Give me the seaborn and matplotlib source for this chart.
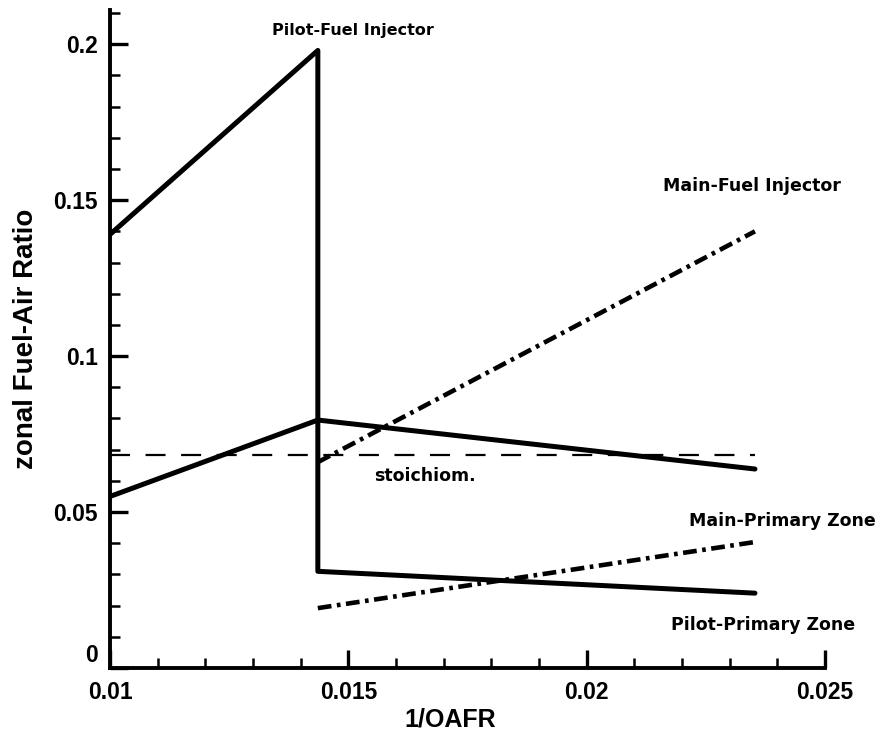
import matplotlib
matplotlib.use("Agg")
import matplotlib.pyplot as plt
import matplotlib.transforms as mtransforms
import seaborn as sns
from matplotlib.ticker import MultipleLocator, FixedLocator

# data
pilot_x = [0.010, 0.01436, 0.01436, 0.02353]
pilot_y = [0.139, 0.198, 0.031, 0.024]
main_solid_x = [0.010, 0.01436, 0.02353]
main_solid_y = [0.055, 0.0795, 0.0638]
main_inj_x = [0.01436, 0.02353]
main_inj_y = [0.066, 0.140]
main_pz_x = [0.01436, 0.02353]
main_pz_y = [0.0192, 0.0404]
stoich_x = [0.010, 0.02353]
stoich_y = [0.0683, 0.0683]

x_ticks = [0.01, 0.015, 0.02, 0.025]
x_labels = ["0.01", "0.015", "0.02", "0.025"]
y_ticks = [0, 0.05, 0.1, 0.15, 0.2]
y_labels = ["0", "0.05", "0.1", "0.15", "0.2"]

sns.set_theme(style="ticks")
plt.rcParams['font.family'] = ['Liberation Sans', 'DejaVu Sans']

fig = plt.figure(figsize=(8.9, 7.37), dpi=100)
ax = fig.add_axes([0.1236, 0.0936, 0.927 - 0.1236, 0.893])

sns.lineplot(x=pilot_x, y=pilot_y, ax=ax, color='black', linewidth=3.6,
             estimator=None, sort=False)
sns.lineplot(x=main_solid_x, y=main_solid_y, ax=ax, color='black', linewidth=3.6,
             estimator=None, sort=False)
sns.lineplot(x=main_inj_x, y=main_inj_y, ax=ax, color='black', linewidth=3.3,
             estimator=None, sort=False)
ax.lines[-1].set_dashes([3, 1.2, 0.8, 1.2])
sns.lineplot(x=main_pz_x, y=main_pz_y, ax=ax, color='black', linewidth=3.3,
             estimator=None, sort=False)
ax.lines[-1].set_dashes([3, 1.2, 0.8, 1.2])
sns.lineplot(x=stoich_x, y=stoich_y, ax=ax, color='black', linewidth=1.6,
             estimator=None, sort=False)
ax.lines[-1].set_dashes([9, 7])

ax.set_xlim(0.01, 0.025)
ax.set_ylim(0, 0.211)
sns.despine(ax=ax)
for s in ['left', 'bottom']:
    ax.spines[s].set_linewidth(2.8)
    ax.spines[s].set_color('black')

ax.xaxis.set_major_locator(FixedLocator(x_ticks))
ax.yaxis.set_major_locator(FixedLocator(y_ticks))
ax.xaxis.set_minor_locator(MultipleLocator(0.001))
ax.yaxis.set_minor_locator(MultipleLocator(0.01))
ax.set_xticklabels(x_labels)
ax.set_yticklabels(y_labels)
ax.tick_params(which='major', direction='in', length=13, width=2.4, color='black',
               labelsize=16.5)
ax.tick_params(axis='x', which='major', pad=9)
ax.tick_params(axis='y', which='major', pad=9)
ax.tick_params(which='minor', direction='in', length=7, width=1.8, color='black')
for lab in ax.get_xticklabels() + ax.get_yticklabels():
    lab.set_fontweight('bold')
    lab.set_color('black')
# the "0" on the y axis sits just above the "0.01" of the x axis
zero_lab = ax.get_yticklabels()[0]
zero_lab.set_va('bottom')
zero_lab.set_transform(zero_lab.get_transform() +
                       mtransforms.ScaledTranslation(0, 1 / 72, fig.dpi_scale_trans))

ax.set_xlabel("1/OAFR", fontsize=18, fontweight='bold', color='black', labelpad=8)
ax.xaxis.set_label_coords(0.476, -0.06)
ax.set_ylabel("zonal Fuel-Air Ratio", fontsize=20, fontweight='bold', color='black', labelpad=10)

tkw = dict(fontsize=12.5, fontweight='bold', color='black', ha='center', va='center',
           family=['DejaVu Sans'])
ax.text(0.0151, 0.2045, "Pilot-Fuel Injector", fontsize=11.5,
        **{k: v for k, v in tkw.items() if k != 'fontsize'})
ax.text(0.02347, 0.1545, "Main-Fuel Injector", **tkw)
ax.text(0.0166, 0.0615, "stoichiom.", **tkw)
ax.text(0.0241, 0.047, "Main-Primary Zone", **tkw)
ax.text(0.0237, 0.0138, "Pilot-Primary Zone", **tkw)

fig.savefig("out.png", dpi=100)
